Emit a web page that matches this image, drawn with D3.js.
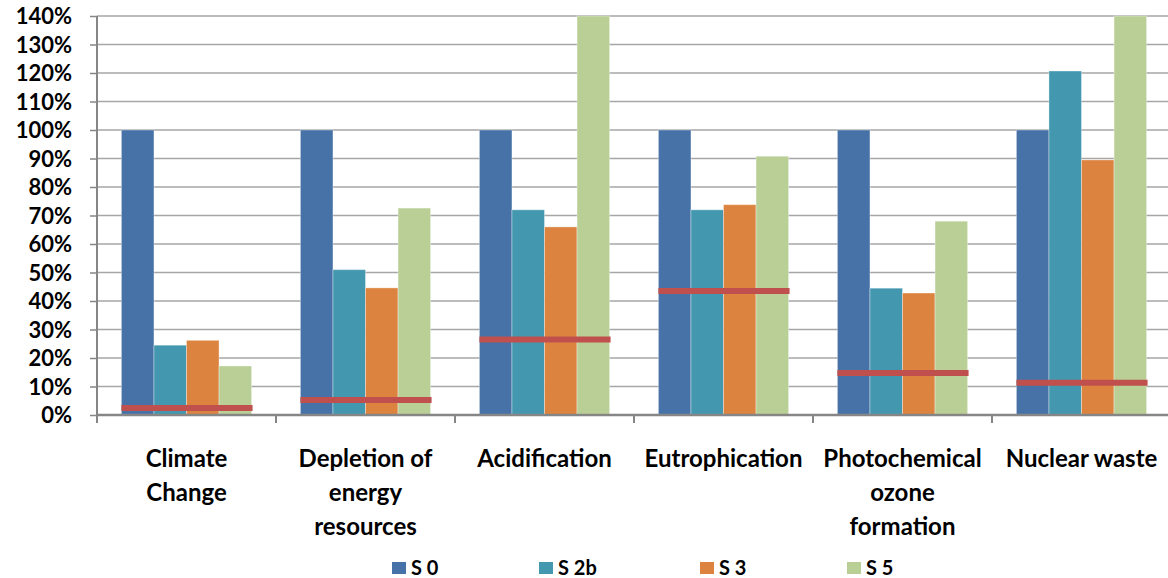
<!DOCTYPE html>
<html><head><meta charset="utf-8">
<script src="https://cdn.jsdelivr.net/npm/d3@7"></script>
<style>
html,body{margin:0;padding:0;background:#fff;}
text{font-family:Lato,"Open Sans",sans-serif;font-weight:bold;fill:#000;}
</style></head>
<body><svg id="chart" width="1168" height="578"></svg>
<script>
const categories = ["Climate Change","Depletion of energy resources","Acidification","Eutrophication","Photochemical ozone formation","Nuclear waste"];
const categoryLines = [["Climate","Change"],["Depletion of","energy","resources"],["Acidification"],["Eutrophication"],["Photochemical","ozone","formation"],["Nuclear waste"]];
const seriesNames = ["S 0","S 2b","S 3","S 5"];
const s0  = [100,100,100,100,100,100];
const s2b = [24.5,51,72,72,44.5,120.7];
const s3  = [26.2,44.6,66,73.8,42.8,89.5];
const s5  = [17.2,72.6,140,90.8,68,140];
const refLine = [2.5,5.3,26.5,43.5,14.7,11.3];
const yTicks = [0,10,20,30,40,50,60,70,80,90,100,110,120,130,140];
const colors = ["#4672a8","#4398b0","#dc843f","#b9cf96"];
const refColor = "#c0504d";

const svg = d3.select("#chart");
const pLeft = 97, pRight = 1171, pTop = 16, pBottom = 415;
const x = d3.scaleBand().domain(categories).range([pLeft,pRight]).paddingInner(0).paddingOuter(0);
const y = d3.scaleLinear().domain([0,140]).range([pBottom,pTop]);
const inner = d3.scaleBand().domain(seriesNames).range([0,x.bandwidth()]).paddingOuter(0.75).paddingInner(0);
const series = [s0,s2b,s3,s5];

// gridlines
svg.append("g").selectAll("line").data(yTicks.filter(d=>d>0)).join("line")
  .attr("x1",pLeft).attr("x2",1168).attr("y1",d=>y(d)).attr("y2",d=>y(d))
  .attr("stroke","#a6a6a6").attr("stroke-width",1.5);

// bars
series.forEach((vals,si)=>{
  svg.append("g").selectAll("rect").data(vals).join("rect")
    .attr("x",(d,i)=>x(categories[i])+inner(seriesNames[si]))
    .attr("width",inner.bandwidth())
    .attr("y",d=>y(d)).attr("height",d=>pBottom-y(d))
    .attr("fill",colors[si])
    .attr("stroke","rgba(255,255,255,0.35)").attr("stroke-width",1);
});

// reference segments
svg.append("g").selectAll("line").data(refLine).join("line")
  .attr("x1",(d,i)=>x(categories[i])+inner(seriesNames[0]))
  .attr("x2",(d,i)=>x(categories[i])+inner(seriesNames[3])+inner.bandwidth()+1)
  .attr("y1",d=>y(d)).attr("y2",d=>y(d))
  .attr("stroke",refColor).attr("stroke-width",6);

// y axis
const yAxis = d3.axisLeft(y).tickValues(yTicks).tickFormat(d=>d+"%").tickSize(7).tickPadding(18);
const ga = svg.append("g").attr("transform",`translate(${pLeft},0)`).call(yAxis);
ga.select(".domain").attr("stroke","#868686").attr("stroke-width",2).attr("d",`M0,${pTop}V${pBottom}`);
ga.selectAll(".tick line").attr("stroke","#868686").attr("stroke-width",1.5);
ga.selectAll(".tick text").attr("font-size",22).attr("dy","0.36em").style("font-family","Lato, sans-serif").style("font-weight","bold");

// x axis
const xAxis = d3.axisBottom(x).tickValues([]).tickSize(0);
const gx = svg.append("g").attr("transform",`translate(0,${pBottom})`).call(xAxis);
gx.select(".domain").attr("stroke","#868686").attr("stroke-width",2.5).attr("d",`M${pLeft},0H1168`);
svg.append("g").selectAll("line").data(categories.map((c,i)=>i)).join("line")
  .attr("x1",i=>x(categories[i])).attr("x2",i=>x(categories[i]))
  .attr("y1",pBottom).attr("y2",pBottom+8).attr("stroke","#868686").attr("stroke-width",2);

// category labels
const lab = svg.append("g");
categories.forEach((c,i)=>{
  const cx = x(c)+x.bandwidth()/2;
  const t = lab.append("text").attr("text-anchor","middle").attr("font-size",24).attr("x",cx);
  categoryLines[i].forEach((ln,j)=>{
    t.append("tspan").attr("x",cx).attr("y",467+j*34).text(ln);
  });
});

// legend
const legendX = [392,539,700,847];
const lg = svg.append("g");
seriesNames.forEach((s,i)=>{
  lg.append("rect").attr("x",legendX[i]).attr("y",562).attr("width",14).attr("height",12).attr("fill",colors[i]);
  lg.append("text").attr("x",legendX[i]+19).attr("y",575).attr("font-size",20).text(s);
});
</script></body></html>
